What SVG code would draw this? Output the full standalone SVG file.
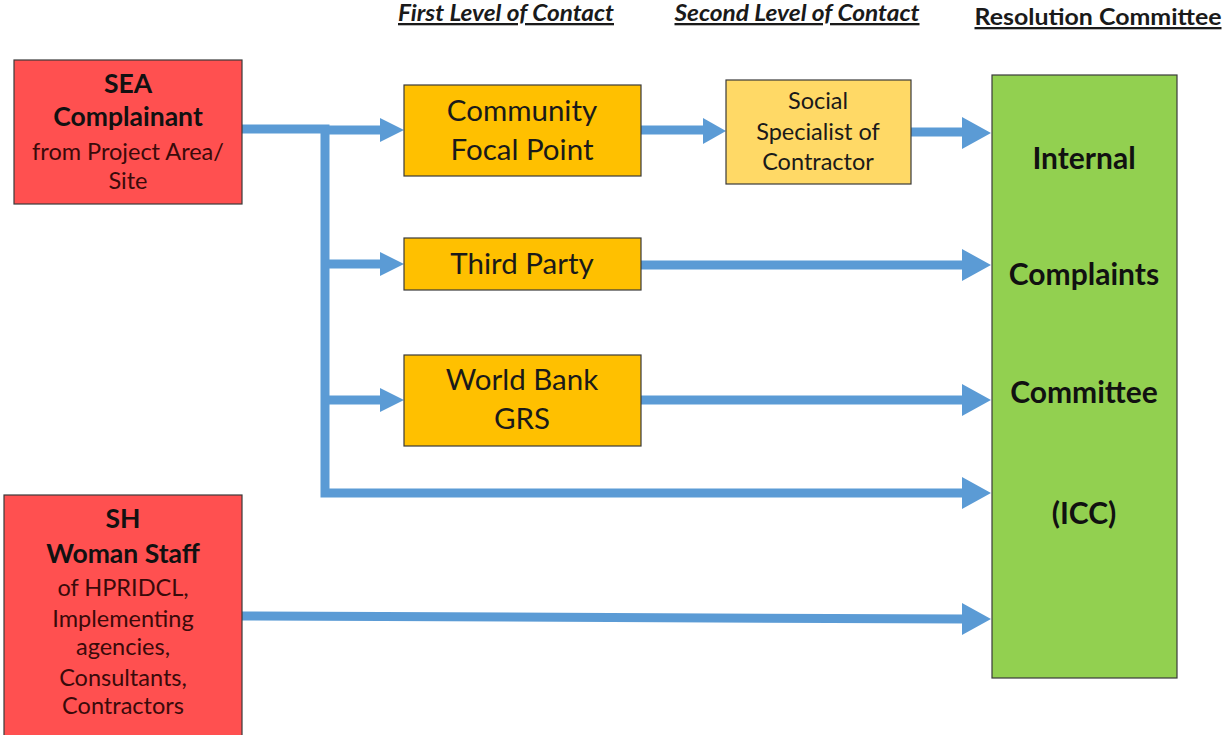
<svg xmlns="http://www.w3.org/2000/svg" width="1225" height="735" viewBox="0 0 1225 735">
<style>
text{font-family:Lato,"Open Sans","Liberation Sans",sans-serif;fill:#1a1a1a;text-anchor:middle}
.hdr{font-size:23px;font-weight:bold;text-decoration:underline}
.it{font-style:italic}
.box{stroke:#3a3a3a;stroke-width:1.2}
.red{fill:#FF5050}
.org{fill:#FFC000}
.yel{fill:#FFD966}
.grn{fill:#92D050}
.t1{font-size:29.5px}
.ts{font-size:23.5px}
.rb{font-size:26.5px;font-weight:bold;fill:#111}
.rn{font-size:23.5px;fill:#3a0a0a}
.gb{font-size:30px;font-weight:bold;fill:#111}
.ln{fill:none;stroke:#5B9BD5;stroke-width:9}
.ah{fill:#5B9BD5}
</style>
<rect width="1225" height="735" fill="#fff"/>
<g id="headers">
<text class="hdr it" x="506" y="21" textLength="216" lengthAdjust="spacingAndGlyphs">First Level of Contact</text>
<text class="hdr it" x="797" y="21" textLength="245" lengthAdjust="spacingAndGlyphs">Second Level of Contact</text>
<text class="hdr" x="1098" y="25" textLength="247" lengthAdjust="spacingAndGlyphs">Resolution Committee</text>
</g>
<g id="connectors">
<path class="ln" d="M242 129 H325 V493 H962"/>
<path class="ln" d="M325 130 H382"/>
<polygon class="ah" points="380,118 404,130 380,142"/>
<path class="ln" d="M325 264 H382"/>
<polygon class="ah" points="380,252 404,264 380,276"/>
<path class="ln" d="M325 400 H382"/>
<polygon class="ah" points="380,388 404,400 380,412"/>
<path class="ln" d="M641 130 H705"/>
<polygon class="ah" points="703,118 726,131 703,144"/>
<path class="ln" d="M911 132 H966"/>
<polygon class="ah" points="962,117 991,133 962,149"/>
<path class="ln" d="M641 265 H966"/>
<polygon class="ah" points="962,249 991,265 962,281"/>
<path class="ln" d="M641 400 H966"/>
<polygon class="ah" points="962,384 991,400 962,416"/>
<polygon class="ah" points="962,477 991,493 962,509"/>
<path class="ln" d="M242 616 L966 619"/>
<polygon class="ah" points="962,603 991,619 962,635"/>
</g>
<g id="sea">
<rect class="box red" x="14" y="60" width="228" height="144"/>
<text class="rb" x="128" y="93">SEA</text>
<text class="rb" x="128" y="126">Complainant</text>
<text class="rn" x="128" y="160">from Project Area/</text>
<text class="rn" x="128" y="189">Site</text>
</g>
<g id="sh">
<rect class="box red" x="4" y="495" width="238" height="250"/>
<text class="rb" x="123" y="528">SH</text>
<text class="rb" x="123" y="563">Woman Staff</text>
<text class="rn" x="123" y="596">of HPRIDCL,</text>
<text class="rn" x="123" y="627">Implementing</text>
<text class="rn" x="123" y="655">agencies,</text>
<text class="rn" x="123" y="686">Consultants,</text>
<text class="rn" x="123" y="714">Contractors</text>
</g>
<g id="cfp">
<rect class="box org" x="404" y="85" width="237" height="91"/>
<text class="t1" x="522" y="121">Community</text>
<text class="t1" x="522" y="160">Focal Point</text>
</g>
<g id="third">
<rect class="box org" x="404" y="238" width="237" height="52"/>
<text class="t1" x="522" y="274">Third Party</text>
</g>
<g id="wb">
<rect class="box org" x="404" y="355" width="237" height="91"/>
<text class="t1" x="522" y="390">World Bank</text>
<text class="t1" x="522" y="429">GRS</text>
</g>
<g id="social">
<rect class="box yel" x="726" y="80" width="185" height="104"/>
<text class="ts" x="818" y="109">Social</text>
<text class="ts" x="818" y="140">Specialist of</text>
<text class="ts" x="818" y="170">Contractor</text>
</g>
<g id="icc">
<rect class="box grn" x="992" y="75" width="185" height="603"/>
<text class="gb" x="1084" y="169">Internal</text>
<text class="gb" x="1084" y="285">Complaints</text>
<text class="gb" x="1084" y="403">Committee</text>
<text class="gb" x="1084" y="524">(ICC)</text>
</g>
</svg>
